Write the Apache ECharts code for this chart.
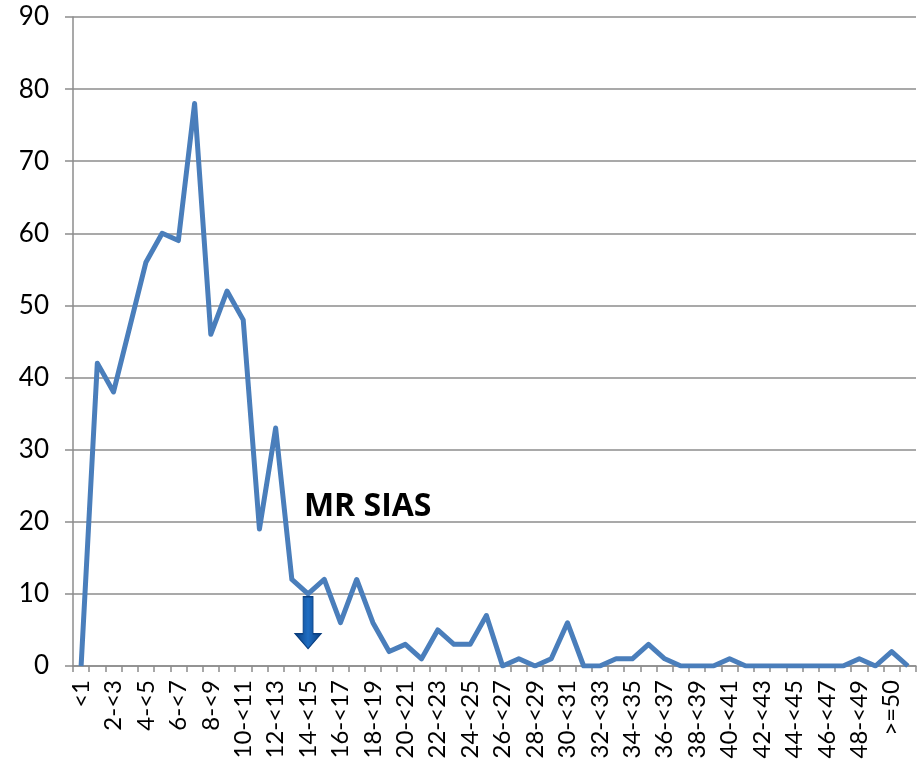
<!DOCTYPE html>
<html>
<head>
<meta charset="utf-8">
<script src="https://cdn.jsdelivr.net/npm/echarts@6/dist/echarts.min.js"></script>
<style>
  html, body { margin: 0; padding: 0; background: #fff; }
  #main { width: 924px; height: 763px; }
</style>
</head>
<body>
<div id="main"></div>
<script>
// categories <1, 1-<2 ... 49-<50, >=50, plus one unlabeled slot at the end
var categories = ['<1'];
for (var i = 1; i < 50; i++) categories.push(i + '-<' + (i + 1));
categories.push('>=50', '');

var counts = [0, 42, 38, 47, 56, 60, 59, 78, 46, 52,
              48, 19, 33, 12, 10, 12, 6, 12, 6, 2,
              3, 1, 5, 3, 3, 7, 0, 1, 0, 1,
              6, 0, 0, 1, 1, 3, 1, 0, 0, 0,
              1, 0, 0, 0, 0, 0, 0, 0, 1, 0,
              2, 0];

var yTicks = { min: 0, max: 90, step: 10 };
var arrowAt = { cat: '14-<15', value: 6 };
var noteAt = { cat: '17-<18', value: 22, text: 'MR SIAS' };

var chart = echarts.init(document.getElementById('main'));
chart.setOption({
  animation: false,
  grid: { left: 73, right: 8, top: 17, bottom: 97 },
  xAxis: {
    type: 'category',
    data: categories,
    boundaryGap: true,
    axisLine: { lineStyle: { color: '#8c8c8c', width: 1.5 } },
    axisTick: { show: true, interval: 0, length: 6, lineStyle: { color: '#8c8c8c', width: 1.5 } },
    axisLabel: {
      interval: 1, rotate: 90, margin: 14,
      fontSize: 24, color: '#000', fontFamily: 'Lato'
    },
    splitLine: { show: false }
  },
  yAxis: {
    type: 'value',
    min: yTicks.min, max: yTicks.max, interval: yTicks.step,
    axisLine: { show: true, lineStyle: { color: '#8c8c8c', width: 1.5 } },
    axisTick: { show: true, length: 8, lineStyle: { color: '#8c8c8c', width: 1.5 } },
    axisLabel: { fontSize: 26, color: '#000', fontFamily: 'Lato', margin: 24 },
    splitLine: { lineStyle: { color: '#8c8c8c', width: 1.5 } }
  },
  series: [{
    type: 'line',
    data: counts,
    symbol: 'none',
    lineStyle: { color: '#4a7ebb', width: 5, join: 'round' },
    itemStyle: { color: '#4a7ebb' },
    markPoint: {
      silent: true,
      data: [
        {
          coord: [arrowAt.cat, arrowAt.value],
          symbol: 'path://M8,0 L18,0 L18,37 L26,37 L13,52 L0,37 L8,37 Z',
          symbolSize: [26, 52],
          itemStyle: {
            color: new echarts.graphic.LinearGradient(0, 0, 1, 0, [
              { offset: 0, color: '#0a3f80' },
              { offset: 0.5, color: '#1f6dc2' },
              { offset: 1, color: '#0a3f80' }
            ]),
            borderColor: '#0a3f80', borderWidth: 1
          },
          label: { show: false }
        },
        {
          coord: [noteAt.cat, noteAt.value],
          symbol: 'rect',
          symbolSize: 1,
          itemStyle: { color: 'rgba(0,0,0,0)' },
          label: {
            show: true, position: 'inside', formatter: noteAt.text, offset: [11, 0],
            fontSize: 32, fontWeight: 'bold', color: '#000', fontFamily: 'Open Sans'
          }
        }
      ]
    }
  }]
});
</script>
</body>
</html>
